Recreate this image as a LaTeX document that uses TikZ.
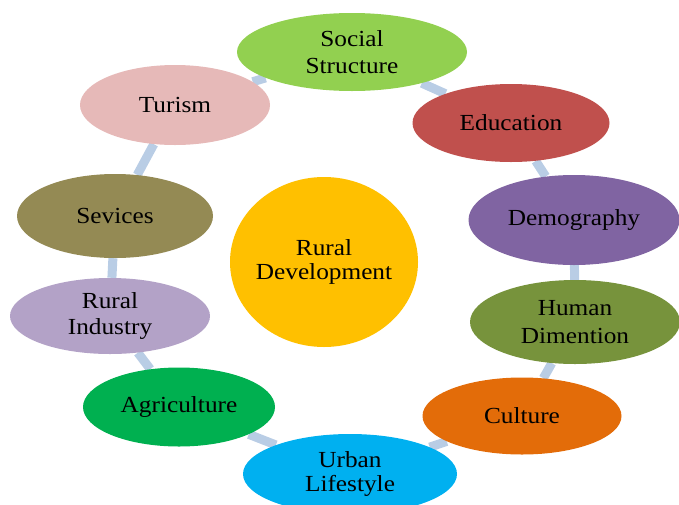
\documentclass[tikz,border=0pt]{standalone}
\usepackage{fontspec}
\setmainfont[FakeStretch=1.1]{Liberation Serif}
\usetikzlibrary{shapes.geometric,backgrounds}
\definecolor{cSocial}{HTML}{92D050}
\definecolor{cEdu}{HTML}{C0504D}
\definecolor{cDemo}{HTML}{8064A2}
\definecolor{cHuman}{HTML}{77933C}
\definecolor{cCult}{HTML}{E36C09}
\definecolor{cUrban}{HTML}{00B0F0}
\definecolor{cAgri}{HTML}{00B050}
\definecolor{cInd}{HTML}{B3A2C7}
\definecolor{cServ}{HTML}{948A54}
\definecolor{cTur}{HTML}{E6B9B8}
\definecolor{cRural}{HTML}{FFC000}
\definecolor{cLink}{HTML}{B9CDE5}
\begin{document}
\begin{tikzpicture}[x=1pt,y=-1pt] % кольцо
\tikzstyle{myoval} = [ellipse, inner sep=-15pt, align=center, font=\fontsize{23}{26}\selectfont] % oval node style
\tikzstyle{mylink} = [draw=cLink, line width=9pt] % connector style
\useasboundingbox (0,0) rectangle (679,504);

\node[myoval, fill=cRural, minimum width=188, minimum height=170, font=\fontsize{23}{24}\selectfont] (rural) at (324,262) {Rural\\Development}; % центр
\node[myoval, fill=cSocial, minimum width=230, minimum height=78, font=\fontsize{23}{27}\selectfont] (social) at (352,52) {Social\\Structure};
\node[myoval, fill=cEdu, minimum width=197, minimum height=78] (edu) at (511,123) {Education};
\node[myoval, fill=cDemo, minimum width=211, minimum height=90] (demo) at (574,220) {Demography};
\node[myoval, fill=cHuman, minimum width=210, minimum height=84, font=\fontsize{23}{28}\selectfont] (human) at (575,322) {Human\\Dimention};
\node[myoval, fill=cCult, minimum width=199, minimum height=77] (cult) at (522,416) {Culture};
\node[myoval, fill=cUrban, minimum width=214, minimum height=80, font=\fontsize{23}{24}\selectfont] (urban) at (350,474) {Urban\\Lifestyle};
\node[myoval, fill=cAgri, minimum width=192, minimum height=79] (agri) at (179,407) {Agriculture};
\node[myoval, fill=cInd, minimum width=200, minimum height=76] (ind) at (110,316) {Rural\\Industry};
\node[myoval, fill=cServ, minimum width=196, minimum height=84] (serv) at (115,216) {Sevices};
\node[myoval, fill=cTur, minimum width=190, minimum height=80] (tur) at (175,105) {Turism};

\begin{scope}[on background layer] % связи между овалами
\draw[mylink] (social) -- (edu);
\draw[mylink] (edu) -- (demo);
\draw[mylink] (demo) -- (human);
\draw[mylink] (human) -- (cult);
\draw[mylink] (cult) -- (urban);
\draw[mylink] (urban) -- (agri);
\draw[mylink] (agri) -- (ind);
\draw[mylink] (ind) -- (serv);
\draw[mylink] (serv) -- (tur);
\draw[mylink] (tur) -- (social);
\end{scope}
\end{tikzpicture}
\end{document}
